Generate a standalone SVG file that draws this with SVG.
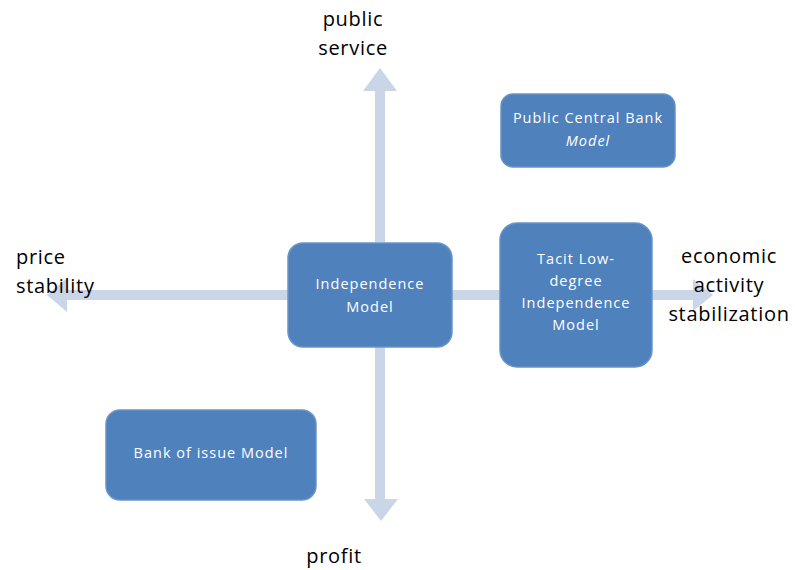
<svg xmlns="http://www.w3.org/2000/svg" width="795" height="570" viewBox="0 0 795 570">
  <style>
    .box { fill: #4F81BD; stroke: #6A93C6; stroke-width: 1.5; }
    .btxt { fill: #FFFFFF; font-family: "Open Sans", "Liberation Sans", sans-serif; font-size: 14.5px; letter-spacing: 1px; text-anchor: middle; }
    .axis { fill: #000000; font-family: "Open Sans", "Liberation Sans", sans-serif; font-size: 20px; letter-spacing: 0.7px; }
    .shaft { fill: #CBD5E8; }
  </style>
  <rect width="795" height="570" fill="#FFFFFF"/>

  <!-- axis arrows -->
  <g id="connectors">
    <!-- up: public service -->
    <rect class="shaft" x="375" y="90" width="10" height="152"/>
    <polygon class="shaft" points="380,68 363,91 397,91"/>
    <!-- down: profit -->
    <rect class="shaft" x="375" y="346" width="10" height="154"/>
    <polygon class="shaft" points="381,521 364,499 398,499"/>
    <!-- left: price stability -->
    <rect class="shaft" x="66" y="290" width="222" height="10"/>
    <polygon class="shaft" points="47,295 67,278 67,312"/>
    <!-- right: economic activity stabilization -->
    <rect class="shaft" x="452" y="290" width="48" height="10"/>
    <rect class="shaft" x="652" y="290" width="42" height="10"/>
    <polygon class="shaft" points="713,295 693,279 693,311"/>
  </g>

  <!-- axis labels -->
  <g id="labels">
    <text class="axis" x="353" y="26" text-anchor="middle">public</text>
    <text class="axis" x="353" y="55" text-anchor="middle">service</text>
    <text class="axis" x="16" y="264">price</text>
    <text class="axis" x="16" y="293">stability</text>
    <text class="axis" x="729" y="263" text-anchor="middle">economic</text>
    <text class="axis" x="729" y="292" text-anchor="middle">activity</text>
    <text class="axis" x="729" y="321" text-anchor="middle">stabilization</text>
    <text class="axis" x="334" y="563" text-anchor="middle">profit</text>
  </g>

  <g id="public-central-bank">
    <rect class="box" x="501" y="94" width="174" height="73" rx="12"/>
    <text class="btxt" x="588" y="123">Public Central Bank</text>
    <text class="btxt" x="588" y="146" font-style="italic">Model</text>
  </g>

  <g id="independence">
    <rect class="box" x="288" y="243" width="164" height="104" rx="15"/>
    <text class="btxt" x="370" y="289">Independence</text>
    <text class="btxt" x="370" y="312">Model</text>
  </g>

  <g id="tacit-low-degree">
    <rect class="box" x="500" y="223" width="152" height="144" rx="17"/>
    <text class="btxt" x="576" y="264">Tacit Low-</text>
    <text class="btxt" x="576" y="286">degree</text>
    <text class="btxt" x="576" y="308">Independence</text>
    <text class="btxt" x="576" y="330">Model</text>
  </g>

  <g id="bank-of-issue">
    <rect class="box" x="106" y="410" width="210" height="90" rx="14"/>
    <text class="btxt" x="211" y="458">Bank of issue Model</text>
  </g>
</svg>
